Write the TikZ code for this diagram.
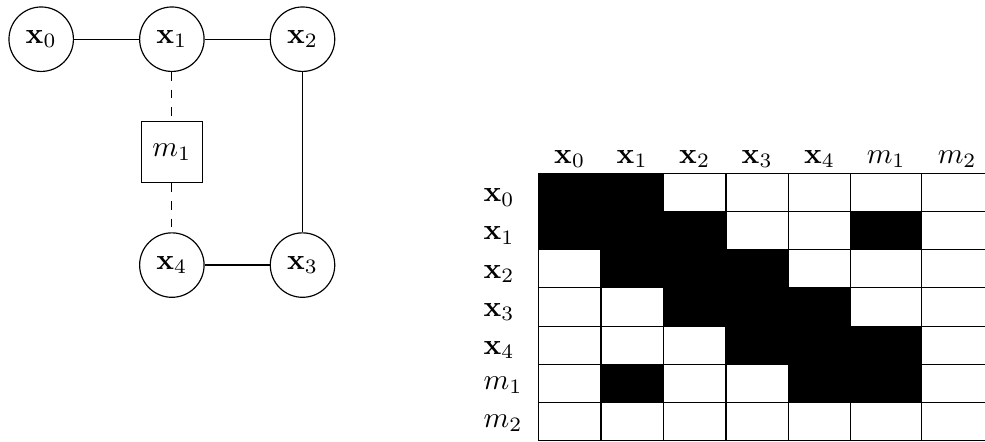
\documentclass[tikz,border=0pt]{standalone}
\usepackage{amsmath,amssymb}
\usetikzlibrary{positioning}

\begin{document}
\begin{tikzpicture}[
    x=0.3413pt, y=-0.3413pt,
    node distance=5.85mm and 7.8mm,
    var/.style={draw, circle, minimum size=22pt, inner sep=0pt},
    fac/.style={draw, rectangle, minimum size=21pt, inner sep=0pt},
    lbl/.style={inner sep=0pt}
]
\useasboundingbox (0,0) rectangle (985,441);

% graph
\node[var] (x0) at (41.2,39.2) {$\mathbf{x}_0$};
\node[var, right=of x0] (x1) {$\mathbf{x}_1$};
\node[var, right=of x1] (x2) {$\mathbf{x}_2$};
\node[fac, below=of x1] (m1) {$m_1$};
\node[var, below=of m1] (x4) {$\mathbf{x}_4$};
\node[var, right=of x4] (x3) {$\mathbf{x}_3$};

\draw (x0) -- (x1);
\draw (x1) -- (x2);
\draw (x2) -- (x3);
\draw (x3) -- (x4);
\draw[dashed] (x1) -- (m1);
\draw[dashed] (m1) -- (x4);

% adjacency matrix
\foreach \i/\x in {0/538.3,1/601,2/663.3,3/726,4/788.3,5/850.7,6/921.7,7/992.7}
    \coordinate (c\i) at (\x,0);
\foreach \j in {0,...,7}
    \coordinate (r\j) at (0,173.3+38.2*\j);

\foreach \r/\c in {0/0,0/1,1/0,1/1,1/2,1/5,2/1,2/2,2/3,3/2,3/3,3/4,4/3,4/4,4/5,5/1,5/4,5/5}{
    \pgfmathtruncatemacro\rn{\r+1}
    \pgfmathtruncatemacro\cn{\c+1}
    \fill (c\c |- r\r) rectangle (c\cn |- r\rn);
}
\foreach \j in {0,...,7}
    \draw (c0 |- r\j) -- (c7 |- r\j);
\foreach \i in {0,...,7}
    \draw (c\i |- r0) -- (c\i |- r7);

% labels
\foreach \i/\cx/\lab in {0/569.7/\mathbf{x}_0,1/632.2/\mathbf{x}_1,2/694.7/\mathbf{x}_2,3/757.2/\mathbf{x}_3,4/819.5/\mathbf{x}_4,5/886.2/m_1,6/957.2/m_2}
    \node[lbl, anchor=base] (col\i) at (\cx,163.5) {$\lab$};
\foreach \j/\by/\lab in {0/201.7/\mathbf{x}_0,1/239.9/\mathbf{x}_1,2/278.1/\mathbf{x}_2,3/316.3/\mathbf{x}_3,4/354.5/\mathbf{x}_4,5/389/m_1,6/427.2/m_2}
    \node[lbl, anchor=base west] (row\j) at (483,\by) {$\lab$};

\end{tikzpicture}
\end{document}
